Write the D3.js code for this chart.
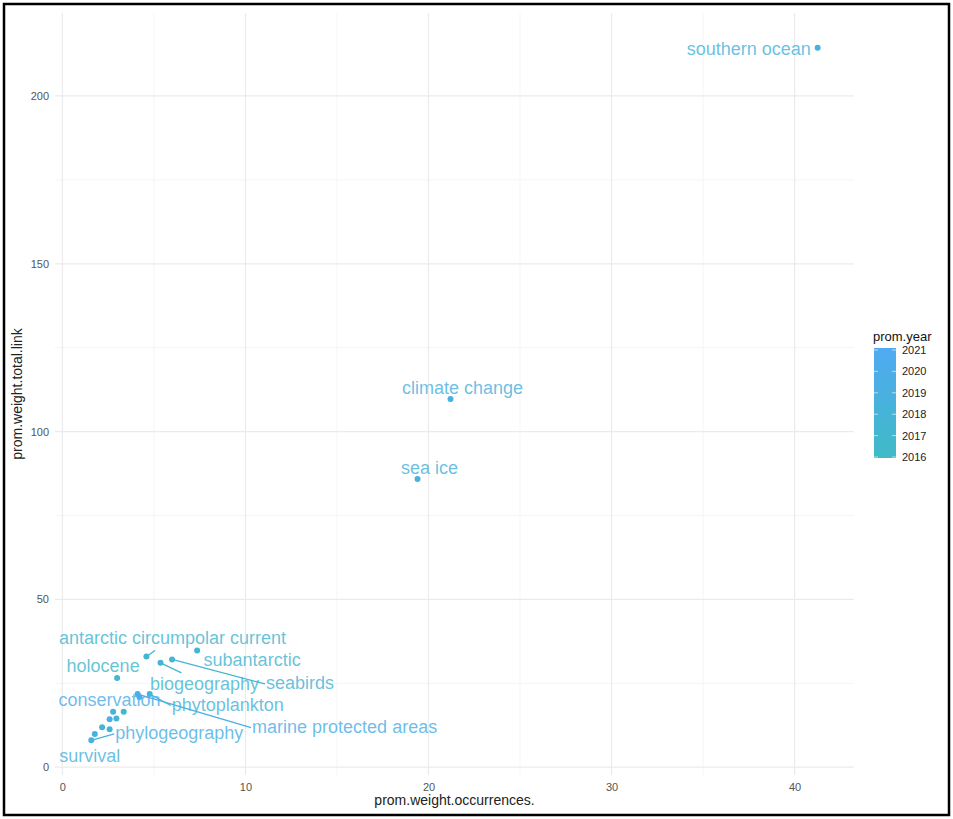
<!DOCTYPE html>
<html>
<head>
<meta charset="utf-8">
<script src="https://cdn.jsdelivr.net/npm/d3@7"></script>
<style>
  html, body { margin: 0; padding: 0; background: #fff; }
  svg { display: block; font-family: "Liberation Sans", Arial, Helvetica, sans-serif; }
</style>
</head>
<body>
<svg id="chart" width="953" height="819"></svg>
<script>
// Keyword prominence: occurrences vs. total link strength, coloured by year
const keywords   = ["southern ocean", "climate change", "sea ice", "antarctic circumpolar current",
                    "subantarctic", "holocene", "biogeography", "seabirds", "conservation",
                    "phytoplankton", "marine protected areas", "phylogeography", "survival",
                    "", "", "", "", "", ""];
const occurrences = [41.26, 21.2, 19.4, 4.59, 7.36, 2.99, 5.36, 5.99, 4.21, 4.77, 4.11, 1.58, 1.77,
                     2.77, 3.35, 2.58, 2.95, 2.17, 2.58];
const totalLink   = [214.4, 109.7, 85.9, 33.0, 34.8, 26.6, 31.1, 32.1, 20.9, 21.8, 21.8, 8.0, 9.9,
                     16.5, 16.5, 14.3, 14.5, 11.9, 11.3];
const years       = [2018.3, 2018.8, 2018.4, 2017.3, 2017.2, 2016.6, 2017.4, 2017.8, 2020.2, 2018.0,
                     2019.8, 2019.2, 2018.5, 2017.6, 2016.4, 2020.0, 2017.8, 2017.5, 2017.2];
const xTicks = [0, 10, 20, 30, 40];
const yTicks = [0, 50, 100, 150, 200];
const yearTicks = [2016, 2017, 2018, 2019, 2020, 2021];

// Label placement (pixel offsets of the label centre from its point) and leader-line flags
const labelDx  = [-69, 12, 12, 26, 55, -14, 44, 128, -30, 78, 207, 88, -5];
const labelDy  = [1, -11, -11, -18, 10, -12, 21, 24, 3, 11, 33, -7, 22];
const leader   = [false, false, false, true, false, false, true, true, false, true, true, true, false];

const svg = d3.select("#chart");
const W = 953, H = 819;
const panel = { left: 55, right: 854, top: 13, bottom: 775 };

// ggplot-style 5% expansion of the data range
function expand(ext) { const s = ext[1] - ext[0]; return [ext[0] - 0.05 * s, ext[1] + 0.05 * s]; }
const x = d3.scaleLinear().domain(expand(d3.extent(occurrences))).range([panel.left, panel.right]);
const y = d3.scaleLinear().domain(expand(d3.extent(totalLink))).range([panel.bottom, panel.top]);
const color = d3.scaleLinear().domain([2016, 2021]).range(["#3fbac6", "#50aaf2"]).clamp(true);

// grid: minor then major
const xMinor = d3.range(5, 45, 10), yMinor = d3.range(25, 225, 50);
const grid = svg.append("g");
grid.selectAll(".xm").data(xMinor).join("line")
  .attr("x1", d => x(d)).attr("x2", d => x(d)).attr("y1", panel.top).attr("y2", panel.bottom)
  .attr("stroke", "#f3f3f3").attr("stroke-width", 0.8);
grid.selectAll(".ym").data(yMinor).join("line")
  .attr("y1", d => y(d)).attr("y2", d => y(d)).attr("x1", panel.left).attr("x2", panel.right)
  .attr("stroke", "#f3f3f3").attr("stroke-width", 0.8);
grid.selectAll(".xM").data(xTicks).join("line")
  .attr("x1", d => x(d)).attr("x2", d => x(d)).attr("y1", panel.top).attr("y2", panel.bottom)
  .attr("stroke", "#ebebeb").attr("stroke-width", 1.2);
grid.selectAll(".yM").data(yTicks).join("line")
  .attr("y1", d => y(d)).attr("y2", d => y(d)).attr("x1", panel.left).attr("x2", panel.right)
  .attr("stroke", "#ebebeb").attr("stroke-width", 1.2);

// axes (tick text only, no lines)
const xAxis = svg.append("g").attr("transform", `translate(0,${panel.bottom + 2})`)
  .call(d3.axisBottom(x).tickValues(xTicks).tickSize(0).tickPadding(6));
const yAxis = svg.append("g").attr("transform", `translate(${panel.left - 4},0)`)
  .call(d3.axisLeft(y).tickValues(yTicks).tickSize(0).tickPadding(2));
[xAxis, yAxis].forEach(a => {
  a.select(".domain").remove();
  a.selectAll("text").attr("fill", "#555").attr("font-size", 11)
    .attr("font-family", '"Liberation Sans", Arial, sans-serif');
});

svg.append("text").attr("x", (panel.left + panel.right) / 2).attr("y", 805)
  .attr("text-anchor", "middle").attr("font-size", 14).attr("fill", "#222")
  .text("prom.weight.occurrences.");
svg.append("text")
  .attr("transform", `translate(22,${(panel.top + panel.bottom) / 2}) rotate(-90)`)
  .attr("text-anchor", "middle").attr("font-size", 14).attr("fill", "#222")
  .text("prom.weight.total.link");

const data = keywords.map((k, i) => ({ k, ox: occurrences[i], oy: totalLink[i], yr: years[i], i }));

// layers: leader lines under points, labels on top
const segG = svg.append("g");
const ptG = svg.append("g");
const lg = svg.append("g");

ptG.selectAll("circle").data(data).join("circle")
  .attr("cx", d => x(d.ox)).attr("cy", d => y(d.oy)).attr("r", 3)
  .attr("fill", d => color(d.yr));

const labelled = data.filter(d => d.k !== "");
const texts = lg.selectAll("text").data(labelled).join("text")
  .attr("x", d => x(d.ox) + labelDx[d.i]).attr("y", d => y(d.oy) + labelDy[d.i])
  .attr("text-anchor", "middle").attr("dominant-baseline", "central")
  .attr("font-size", 18).attr("fill", d => color(d.yr)).attr("fill-opacity", 0.82)
  .text(d => d.k);

// leader lines from points towards the label boxes
texts.each(function (d) {
  if (!leader[d.i]) return;
  const bb = this.getBBox();
  const px = x(d.ox), py = y(d.oy);
  const mx = bb.x + bb.width / 2, my = bb.y + bb.height / 2;
  let x1 = bb.x - 1, x2 = bb.x + bb.width + 1, y1 = bb.y + 2, y2 = bb.y + bb.height - 1;
  let cx = Math.max(x1, Math.min(px, x2)), cy = Math.max(y1, Math.min(py, y2));
  if (Math.abs(cx - px) > Math.abs(cy - py)) {
    cy = (y1 + y2) / 2;            // side connection at mid-height
  } else {
    // aim at the label centre and stop at a padded box edge
    y1 -= 3; y2 += 3; x1 -= 3; x2 += 3;
    const dx = mx - px, dy = my - py;
    let t = 1;
    if (dy < 0) t = Math.min(t, (y2 - py) / dy);
    if (dy > 0) t = Math.min(t, (y1 - py) / dy);
    if (dx > 0 && px < x1) t = Math.min(t, (x1 - px) / dx);
    if (dx < 0 && px > x2) t = Math.min(t, (x2 - px) / dx);
    cx = px + dx * t; cy = py + dy * t;
  }
  segG.append("line").attr("x1", px).attr("y1", py).attr("x2", cx).attr("y2", cy)
    .attr("stroke", color(d.yr)).attr("stroke-width", 1.3);
});

// colour bar legend
const bar = { x: 874, w: 22, top: 348, bottom: 458 };
const ly = d3.scaleLinear().domain([2016, 2021]).range([bar.bottom - 1, bar.top + 2]);
const defs = svg.append("defs");
const grad = defs.append("linearGradient").attr("id", "yr").attr("x1", 0).attr("x2", 0).attr("y1", 1).attr("y2", 0);
grad.append("stop").attr("offset", "0%").attr("stop-color", color(2016));
grad.append("stop").attr("offset", "100%").attr("stop-color", color(2021));
svg.append("rect").attr("x", bar.x).attr("y", bar.top).attr("width", bar.w)
  .attr("height", bar.bottom - bar.top).attr("fill", "url(#yr)");
const lgTicks = svg.append("g");
lgTicks.selectAll(".tl").data(yearTicks).join("line")
  .attr("x1", bar.x).attr("x2", bar.x + 4).attr("y1", d => ly(d)).attr("y2", d => ly(d))
  .attr("stroke", "#fff").attr("stroke-opacity", 0.6);
lgTicks.selectAll(".tr").data(yearTicks).join("line")
  .attr("x1", bar.x + bar.w - 4).attr("x2", bar.x + bar.w).attr("y1", d => ly(d)).attr("y2", d => ly(d))
  .attr("stroke", "#fff").attr("stroke-opacity", 0.6);
lgTicks.selectAll("text").data(yearTicks).join("text")
  .attr("x", bar.x + bar.w + 6).attr("y", d => ly(d)).attr("dominant-baseline", "central")
  .attr("font-size", 11).attr("fill", "#222").text(d => d);
svg.append("text").attr("x", 873).attr("y", 341).attr("font-size", 13).attr("fill", "#111")
  .text("prom.year");

// outer frame
svg.append("rect").attr("x", 4).attr("y", 4).attr("width", W - 8).attr("height", H - 8)
  .attr("fill", "none").attr("stroke", "#000").attr("stroke-width", 2.5);
</script>
</body>
</html>
